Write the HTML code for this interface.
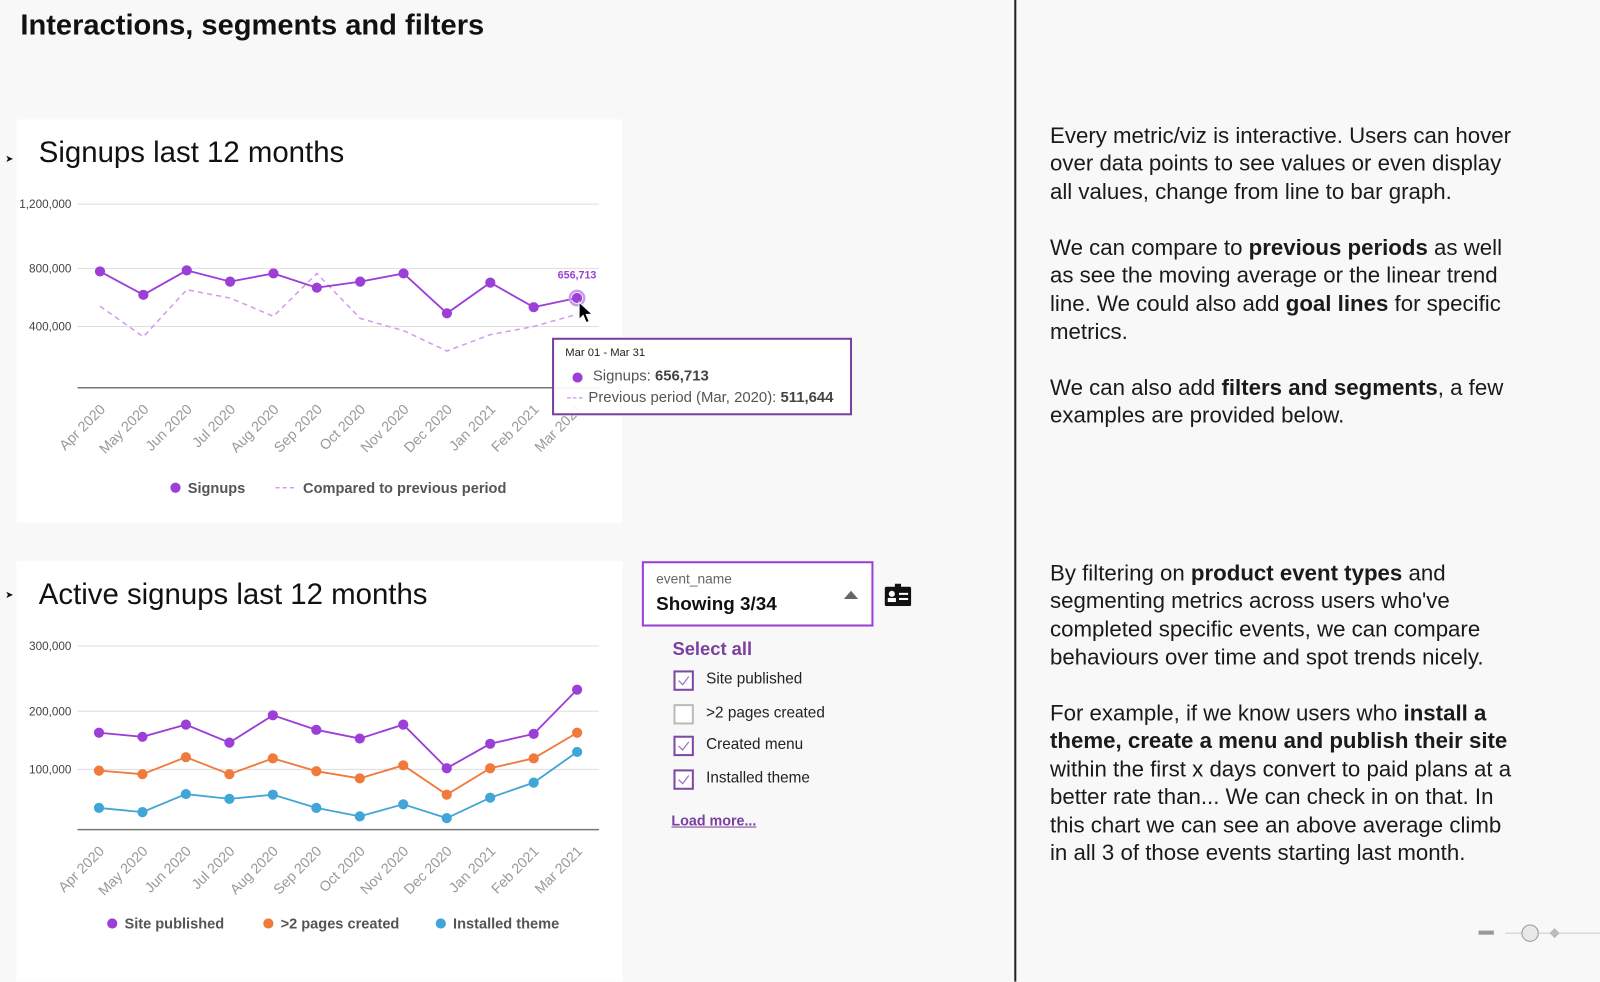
<!DOCTYPE html>
<html><head><meta charset="utf-8">
<style>
*{margin:0;padding:0;box-sizing:border-box}
body{width:1600px;height:962px;background:#f8f8f8;font-family:"Liberation Sans",sans-serif;position:relative;overflow:hidden;color:#111}
#wrap{position:absolute;left:0;top:0;width:1568px;height:943px;transform:scale(1.0204);transform-origin:0 0}
.abs{position:absolute}
.panel{position:absolute;background:#fff}
.rt{position:absolute;left:1029px;font-size:21.8px;line-height:27.4px;white-space:nowrap;color:#1a1a1a}
.rt b{font-weight:bold}
.cb{position:absolute;left:660px;width:20px;height:20px;border:2px solid #7b4aa5;background:#fff}
.cb.off{border-color:#bbb}
.cbl{position:absolute;left:692px;font-size:15px;color:#222}
</style></head><body>
<div id="wrap">
<div class="abs" style="left:20px;top:9px;font-size:28.5px;font-weight:bold">Interactions, segments and filters</div>
<div class="abs" style="left:994px;top:0;width:2px;height:962px;background:#222"></div>

<div class="panel" style="left:16px;top:117px;width:594px;height:395px"></div>
<div class="panel" style="left:16px;top:550px;width:594px;height:412px"></div>
<div class="abs" style="left:5px;top:151px;font-size:10px">&#x27A4;</div>
<div class="abs" style="left:38px;top:134px;font-size:28.8px;color:#111">Signups last 12 months</div>
<div class="abs" style="left:5px;top:578px;font-size:10px">&#x27A4;</div>
<div class="abs" style="left:38px;top:567px;font-size:28.8px;color:#111">Active signups last 12 months</div>

<svg id="svg" class="abs" style="left:0;top:0" width="1600" height="962"></svg>

<div class="abs" style="left:541px;top:331px;width:294px;height:76px;border:2px solid #7b3fa0;background:rgba(255,255,255,0.92)">
 <div style="position:absolute;left:11px;top:7px;font-size:11px;color:#222">Mar 01 - Mar 31</div>
 <div style="position:absolute;left:18px;top:32px;width:10px;height:10px;border-radius:50%;background:#9b3fd6"></div>
 <div style="position:absolute;left:38px;top:28px;font-size:14.6px;color:#555">Signups: <b style="color:#444">656,713</b></div>
 <div style="position:absolute;left:12px;top:49px;font-size:14.6px;color:#555;white-space:nowrap"><span style="color:#cc88ee;letter-spacing:1px">---</span> Previous period (Mar, 2020): <b style="color:#444">511,644</b></div>
</div>

<div class="abs" style="left:629px;top:550px;width:227px;height:64px;border:2px solid #9b3fd6;background:#fff">
 <div style="position:absolute;left:12px;top:8px;font-size:13.5px;color:#666">event_name</div>
 <div style="position:absolute;left:12px;top:29px;font-size:18.5px;font-weight:bold;color:#111">Showing 3/34</div>
 <div style="position:absolute;left:196px;top:27px;width:0;height:0;border-left:7px solid transparent;border-right:7px solid transparent;border-bottom:8px solid #666"></div>
</div>
<svg class="abs" style="left:867px;top:572px" width="26" height="22"><rect x="0" y="3" width="26" height="19" rx="2" fill="#111"/><rect x="10" y="0" width="6" height="4" fill="#111"/><circle cx="7" cy="10" r="3" fill="#fff"/><rect x="3" y="14" width="8" height="4" fill="#fff"/><rect x="14" y="9" width="9" height="2" fill="#fff"/><rect x="14" y="14" width="9" height="2" fill="#fff"/></svg>
<div class="abs" style="left:659px;top:626px;font-size:18px;font-weight:bold;color:#7b3fa0">Select all</div>
<div class="cb" style="top:657px"><svg width="16" height="16"><path d="M3 8 L7 12 L13 4" stroke="#9b6fc5" fill="none" stroke-width="1.2"/></svg></div>
<div class="cbl" style="top:657px">Site published</div>
<div class="cb off" style="top:690px"></div>
<div class="cbl" style="top:690px">&gt;2 pages created</div>
<div class="cb" style="top:721px"><svg width="16" height="16"><path d="M3 8 L7 12 L13 4" stroke="#9b6fc5" fill="none" stroke-width="1.2"/></svg></div>
<div class="cbl" style="top:721px">Created menu</div>
<div class="cb" style="top:754px"><svg width="16" height="16"><path d="M3 8 L7 12 L13 4" stroke="#9b6fc5" fill="none" stroke-width="1.2"/></svg></div>
<div class="cbl" style="top:754px">Installed theme</div>
<div class="abs" style="left:658px;top:796px;font-size:14px;font-weight:bold;color:#7b3fa0;text-decoration:underline">Load more...</div>

<div class="rt" style="top:119px">Every metric/viz is interactive. Users can hover<br>over data points to see values or even display<br>all values, change from line to bar graph.</div>
<div class="rt" style="top:229px">We can compare to <b>previous periods</b> as well<br>as see the moving average or the linear trend<br>line. We could also add <b>goal lines</b> for specific<br>metrics.</div>
<div class="rt" style="top:366px">We can also add <b>filters and segments</b>, a few<br>examples are provided below.</div>
<div class="rt" style="top:548px">By filtering on <b>product event types</b> and<br>segmenting metrics across users who've<br>completed specific events, we can compare<br>behaviours over time and spot trends nicely.</div>
<div class="rt" style="top:685px">For example, if we know users who <b>install a</b><br><b>theme, create a menu and publish their site</b><br>within the first x days convert to paid plans at a<br>better rate than... We can check in on that. In<br>this chart we can see an above average climb<br>in all 3 of those events starting last month.</div>

<div class="abs" style="left:1449px;top:912px;width:15px;height:4px;background:#999"></div>
<div class="abs" style="left:1475px;top:914px;width:125px;height:1px;background:#ccc"></div>
<div class="abs" style="left:1491px;top:906px;width:17px;height:17px;border-radius:50%;border:1.5px solid #999;background:#e8e8e8"></div>
<div class="abs" style="left:1520px;top:911px;width:7px;height:7px;background:#bbb;transform:rotate(45deg)"></div>
</div>
<script>
const months = ["Apr 2020","May 2020","Jun 2020","Jul 2020","Aug 2020","Sep 2020","Oct 2020","Nov 2020","Dec 2020","Jan 2021","Feb 2021","Mar 2021"];
const signups = [779000,618000,786000,709000,765000,667000,709000,765000,491000,702000,533000,596000];
const previousPeriod = [540000,333000,653000,596000,470000,765000,456000,373000,240000,347000,400000,484000];
const ticks1 = [400000,800000,1200000];
const tickLabels1 = ["400,000","800,000","1,200,000"];
const sitePublished = [163000,156000,177000,146000,193000,168000,153000,177000,102000,144000,161000,233000];
const pagesCreated = [98000,92000,121000,92000,119000,97000,85000,107000,58000,102000,119000,163000];
const installedTheme = [36000,29000,59000,51000,58000,36000,22000,42000,19000,53000,78000,130000];
const ticks2 = [100000,200000,300000];
const tickLabels2 = ["100,000","200,000","300,000"];

const NS="http://www.w3.org/2000/svg";
const svg=document.getElementById('svg');
function el(t,a,p){const e=document.createElementNS(NS,t);for(const k in a)e.setAttribute(k,a[k]);(p||svg).appendChild(e);return e;}
function piece(anch){return v=>{for(let i=1;i<anch.length;i++){const[a0,y0]=anch[i-1],[a1,y1]=anch[i];if(v<=a1||i==anch.length-1)return y0+(v-a0)/(a1-a0)*(y1-y0);}};}
const y1=piece([[0,380],[400000,320],[800000,263],[1200000,200]]);
const y2=piece([[0,813],[100000,754],[200000,697],[300000,633]]);
const x1=i=>98+i*42.5, x2=i=>97+i*42.6;

function axes(yf,ticks,labels,base,xf){
  ticks.forEach((t,i)=>{const y=yf(t);
    const g=el('line',{x1:76,x2:587,y1:y,y2:y,stroke:'#ddd','stroke-width':1});
    
    const tx=el('text',{x:70,y:y+4,'text-anchor':'end','font-size':11.5,fill:'#444','font-family':'Liberation Sans'});
    tx.textContent=labels[i];});
  const b=el('line',{x1:76,x2:587,y1:base,y2:base,stroke:'#777','stroke-width':1.5});
  
  months.forEach((m,i)=>{const x=xf(i)+6,y=base+22;
    const t=el('text',{x:x,y:y,'text-anchor':'end','font-size':14,fill:'#999','font-family':'Liberation Sans',transform:`rotate(-45 ${x} ${y})`});
    t.textContent=m;});
}
function series(vals,yf,xf,color,name,dots,dash){
  const pts=vals.map((v,i)=>xf(i)+','+yf(v)).join(' ');
  const p=el('polyline',{points:pts,fill:'none',stroke:color,'stroke-width':dash?1.5:1.8});
  if(dash)p.setAttribute('stroke-dasharray','5,4');
  
  if(dots)vals.forEach((v,i)=>{const c=el('circle',{cx:xf(i),cy:yf(v),r:5,fill:color});
    });
}
axes(y1,ticks1,tickLabels1,380,x1);
series(previousPeriod,y1,x1,'#d39af0','previous-period',false,true);
series(signups,y1,x1,'#9b3fd6','signups',true,false);
const last=signups.length-1;
const h=el('circle',{cx:x1(last),cy:y1(signups[last]),r:7,fill:'none',stroke:'#c89be8','stroke-width':2.5});

const lb=el('text',{x:x1(last),y:y1(signups[last])-19,'text-anchor':'middle','font-size':10.5,'font-weight':'bold',fill:'#9b3fd6','font-family':'Liberation Sans'});
lb.textContent='656,713';
const cur=el('path',{d:`M${x1(last)+2} ${y1(signups[last])+4} l0 17 l4 -4 l3 7 l3 -1 l-3 -7 l6 0 z`,fill:'#000',stroke:'#fff','stroke-width':1});


axes(y2,ticks2,tickLabels2,813,x2);
series(sitePublished,y2,x2,'#9b3fd6','site-published',true);
series(pagesCreated,y2,x2,'#f07a3c','pages-created',true);
series(installedTheme,y2,x2,'#42a5d8','installed-theme',true);

function legend(items,y){items.forEach(it=>{
  if(it.dash){const l=el('line',{x1:it.x,x2:it.x+20,y1:y,y2:y,stroke:'#d39af0','stroke-width':1.5,'stroke-dasharray':'4,3'});}
  else{const c=el('circle',{cx:it.x+5,cy:y,r:5,fill:it.c});}
  const t=el('text',{x:it.x+(it.dash?27:17),y:y+5,'font-size':14.3,'font-weight':'bold',fill:'#555','font-family':'Liberation Sans'});
  t.textContent=it.t;});}
legend([{x:167,c:'#9b3fd6',t:'Signups'},{x:270,dash:1,t:'Compared to previous period'}],478);
legend([{x:105,c:'#9b3fd6',t:'Site published'},{x:258,c:'#f07a3c',t:'>2 pages created'},{x:427,c:'#42a5d8',t:'Installed theme'}],905);
</script>
</body></html>
